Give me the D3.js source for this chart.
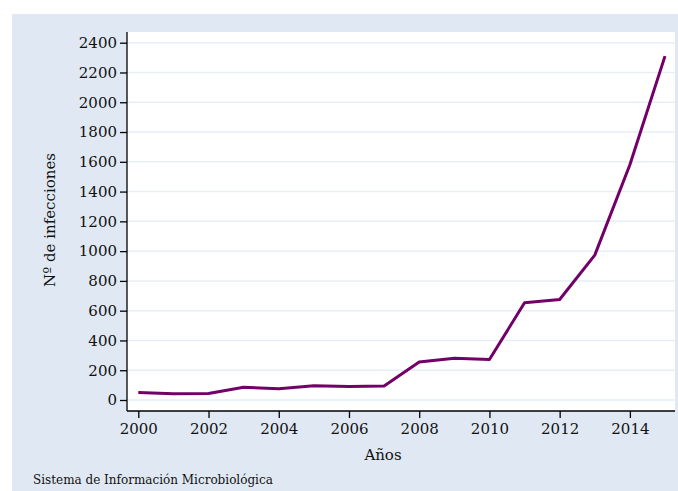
<!DOCTYPE html>
<html>
<head>
<meta charset="utf-8">
<script src="https://cdn.jsdelivr.net/npm/d3@7"></script>
<style>
  body { margin: 0; background: #fff; }
  text { font-family: "DejaVu Serif", serif; fill: #111; }
</style>
</head>
<body>
<div id="main"></div>
<script>
// data
const years = [2000, 2001, 2002, 2003, 2004, 2005, 2006, 2007, 2008, 2009, 2010, 2011, 2012, 2013, 2014, 2015];
const infecciones = [50, 42, 44, 85, 76, 96, 90, 94, 255, 280, 272, 653, 675, 973, 1580, 2310];
const yTicks = [0, 200, 400, 600, 800, 1000, 1200, 1400, 1600, 1800, 2000, 2200, 2400];
const xTicks = [2000, 2002, 2004, 2006, 2008, 2010, 2012, 2014];

const width = 678, height = 491;

const svg = d3.select("#main")
  .append("svg")
  .attr("width", width)
  .attr("height", height);

// outer bluish panel
svg.append("rect")
  .attr("x", 12).attr("y", 14)
  .attr("width", width - 12).attr("height", height - 14)
  .attr("fill", "#e0e9f3");

const plot = {left: 127, top: 32, right: 675, bottom: 411};

svg.append("rect")
  .attr("x", plot.left).attr("y", plot.top)
  .attr("width", plot.right - plot.left).attr("height", plot.bottom - plot.top)
  .attr("fill", "#fff");

const x = d3.scaleLinear().domain([2000, 2015]).range([138.3, 665]);
const y = d3.scaleLinear().domain([0, 2400]).range([400, 42.7]);

// grid
svg.append("g")
  .selectAll("line")
  .data(yTicks)
  .enter()
  .append("line")
  .attr("x1", plot.left).attr("x2", plot.right)
  .attr("y1", d => y(d)).attr("y2", d => y(d))
  .attr("stroke", "#e6eef8")
  .attr("stroke-width", 1.5);

// y axis
const yAxis = svg.append("g")
  .attr("transform", `translate(${plot.left},0)`)
  .call(d3.axisLeft(y).tickValues(yTicks).tickFormat(d3.format("d")).tickSize(7).tickPadding(3).tickSizeOuter(0));
yAxis.select(".domain").attr("d", `M0,${plot.top}V${plot.bottom}`).attr("stroke", "#000").attr("stroke-width", 1.3);
yAxis.selectAll(".tick line").attr("stroke", "#000").attr("stroke-width", 1.3);
yAxis.selectAll(".tick text").attr("font-size", 15).attr("font-family", "DejaVu Serif").attr("fill", "#111");

// x axis
const xAxis = svg.append("g")
  .attr("transform", `translate(0,${plot.bottom})`)
  .call(d3.axisBottom(x).tickValues(xTicks).tickFormat(d3.format("d")).tickSize(7).tickPadding(5).tickSizeOuter(0));
xAxis.select(".domain").attr("d", `M${plot.left},0H${plot.right}`).attr("stroke", "#000").attr("stroke-width", 1.3);
xAxis.selectAll(".tick line").attr("stroke", "#000").attr("stroke-width", 1.3);
xAxis.selectAll(".tick text").attr("font-size", 15).attr("font-family", "DejaVu Serif").attr("fill", "#111");

// the line
const line = d3.line()
  .x((d, i) => x(years[i]))
  .y(d => y(d));

svg.append("path")
  .datum(infecciones)
  .attr("d", line)
  .attr("fill", "none")
  .attr("stroke", "#720068")
  .attr("stroke-width", 3)
  .attr("stroke-linejoin", "round");

// titles
svg.append("text")
  .attr("transform", "translate(55,220) rotate(-90)")
  .attr("text-anchor", "middle")
  .attr("font-size", 15)
  .text("Nº de infecciones");

svg.append("text")
  .attr("x", 383).attr("y", 460)
  .attr("text-anchor", "middle")
  .attr("font-size", 15)
  .text("Años");

svg.append("text")
  .attr("x", 33).attr("y", 484)
  .attr("font-size", 12)
  .text("Sistema de Información Microbiológica");
</script>
</body>
</html>
